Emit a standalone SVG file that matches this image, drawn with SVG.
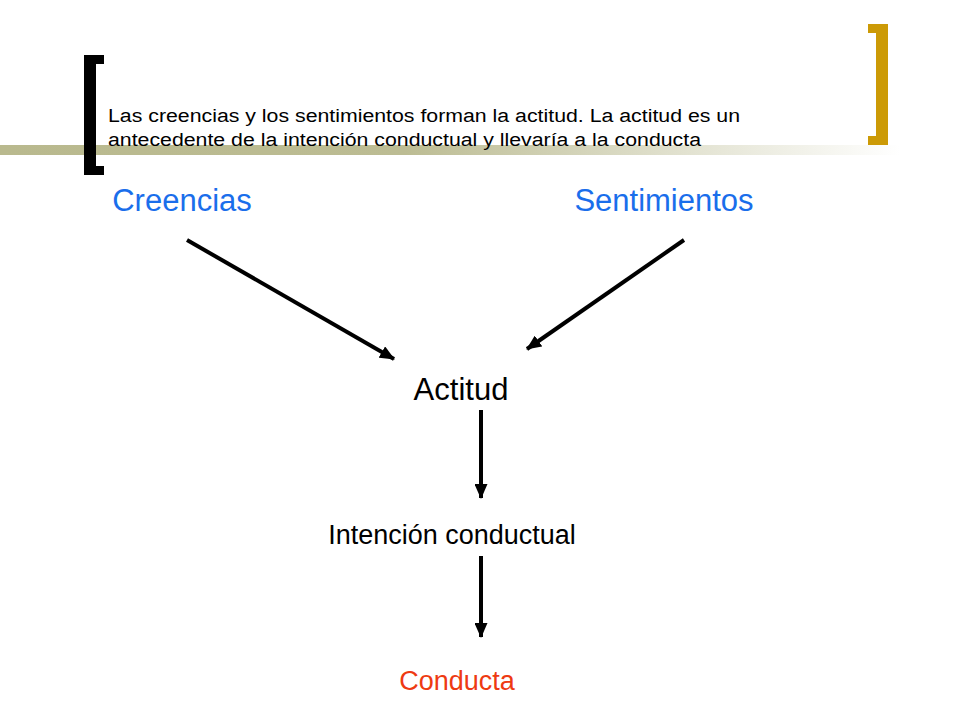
<svg xmlns="http://www.w3.org/2000/svg" width="960" height="720" viewBox="0 0 960 720">
  <defs>
    <linearGradient id="band" x1="0" y1="0" x2="1" y2="0">
      <stop offset="0" stop-color="#B9B98E"/>
      <stop offset="0.45" stop-color="#BCBC93"/>
      <stop offset="1" stop-color="#FFFFFF"/>
    </linearGradient>
    <marker id="arrow" markerUnits="userSpaceOnUse" markerWidth="15" markerHeight="13" refX="14" refY="6.5" orient="auto">
      <path d="M0,0 L15,6.5 L0,13 Z" fill="#000"/>
    </marker>
    <style>
      .lbl { font-family: "Liberation Sans", Arial, sans-serif; }
      .blue { fill: #1A6EEB; font-size: 31px; }
      .black { fill: #000; }
      .red { fill: #EE3A12; font-size: 27px; }
      .conn { stroke: #000; stroke-width: 4; fill: none; marker-end: url(#arrow); }
    </style>
  </defs>
  <rect width="960" height="720" fill="#fff"/>
  <g id="decoration">
    <rect x="0" y="145" width="900" height="10" fill="url(#band)"/>
    <path d="M104,55 H84 V175 H104 V166 H96 V64 H104 Z" fill="#000"/>
    <path d="M868,24 H888 V145 H868 V136 H876 V33 H868 Z" fill="#CC9A06"/>
  </g>
  <g id="title">
    <text class="lbl" x="108" y="122" font-size="18" textLength="632" lengthAdjust="spacingAndGlyphs">Las creencias y los sentimientos forman la actitud. La actitud es un</text>
    <text class="lbl" x="108" y="146" font-size="18" textLength="593" lengthAdjust="spacingAndGlyphs">antecedente de la intención conductual y llevaría a la conducta</text>
  </g>
  <g id="node-creencias"><text class="lbl blue" x="182" y="211" text-anchor="middle">Creencias</text></g>
  <g id="node-sentimientos"><text class="lbl blue" x="664" y="211" text-anchor="middle">Sentimientos</text></g>
  <g id="node-actitud"><text class="lbl black" x="461" y="400" font-size="31" text-anchor="middle">Actitud</text></g>
  <g id="node-intencion"><text class="lbl black" x="452" y="544" font-size="27" text-anchor="middle">Intención conductual</text></g>
  <g id="node-conducta"><text class="lbl red" x="457" y="690" text-anchor="middle">Conducta</text></g>
  <g id="connectors">
    <line class="conn" x1="187" y1="240" x2="394" y2="359"/>
    <line class="conn" x1="684" y1="240" x2="527" y2="349"/>
    <line class="conn" x1="481" y1="410" x2="481" y2="498"/>
    <line class="conn" x1="481" y1="556" x2="481" y2="637"/>
  </g>
</svg>
